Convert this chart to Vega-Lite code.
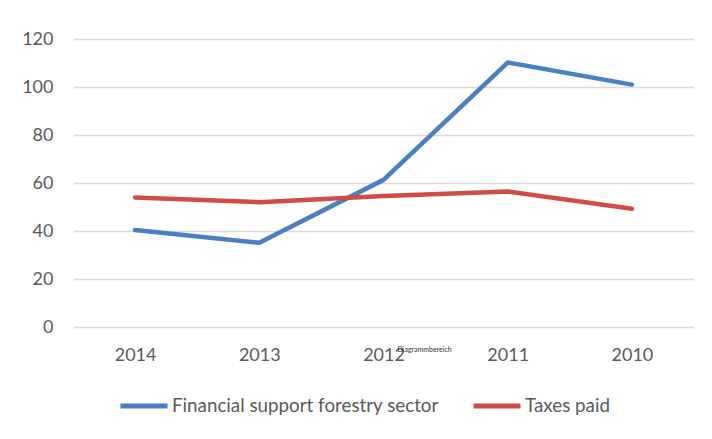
{
  "$schema": "https://vega.github.io/schema/vega-lite/v6.json",
  "width": 621,
  "height": 288,
  "autosize": "none",
  "padding": {"left": 73, "top": 39, "right": 18, "bottom": 112},
  "background": "white",
  "config": {
    "view": {"stroke": null},
    "font": "Lato"
  },
  "datasets": {
    "series": [
      {"year": "2014", "series": "Financial support forestry sector", "value": 40.4},
      {"year": "2013", "series": "Financial support forestry sector", "value": 35.1},
      {"year": "2012", "series": "Financial support forestry sector", "value": 61.3},
      {"year": "2011", "series": "Financial support forestry sector", "value": 110.2},
      {"year": "2010", "series": "Financial support forestry sector", "value": 101.0},
      {"year": "2014", "series": "Taxes paid", "value": 54.0},
      {"year": "2013", "series": "Taxes paid", "value": 52.0},
      {"year": "2012", "series": "Taxes paid", "value": 54.6},
      {"year": "2011", "series": "Taxes paid", "value": 56.5},
      {"year": "2010", "series": "Taxes paid", "value": 49.3}
    ],
    "note": [
      {"year": "2012", "value": 0, "label": "Diagrammbereich"}
    ]
  },
  "layer": [
    {
      "data": {"name": "series"},
      "mark": {"type": "line", "strokeWidth": 4.5, "strokeCap": "round", "strokeJoin": "round"},
      "encoding": {
        "x": {
          "field": "year", "type": "ordinal", "sort": ["2014", "2013", "2012", "2011", "2010"],
          "scale": {"type": "point", "padding": 0.5},
          "axis": {"title": null, "labelAngle": 0, "domain": false, "ticks": false, "grid": false,
                   "labelFont": "Lato", "labelFontSize": 18, "labelColor": "#595959", "labelPadding": 19}
        },
        "y": {
          "field": "value", "type": "quantitative",
          "scale": {"domain": [0, 120]},
          "axis": {"title": null, "values": [0, 20, 40, 60, 80, 100, 120], "domain": false, "ticks": false,
                   "grid": true, "gridColor": "#d9d9d9", "gridWidth": 1.3,
                   "labelFont": "Lato", "labelFontSize": 18, "labelColor": "#595959", "labelPadding": 20}
        },
        "color": {
          "field": "series", "type": "nominal",
          "scale": {"domain": ["Financial support forestry sector", "Taxes paid"], "range": ["#4A7FC1", "#D14B47"]},
          "legend": {
            "title": null, "orient": "none", "direction": "horizontal",
            "legendX": 45, "legendY": 341,
            "symbolType": "stroke", "symbolSize": 2209, "symbolStrokeWidth": 5,
            "labelFont": "Lato", "labelFontSize": 18.8, "labelColor": "#595959",
            "labelOffset": 2, "columnPadding": 24, "labelLimit": 400
          }
        }
      }
    },
    {
      "data": {"name": "note"},
      "mark": {"type": "text", "fontSize": 7, "color": "#333333", "align": "left", "dx": 14, "dy": 23},
      "encoding": {
        "x": {"field": "year", "type": "ordinal", "sort": ["2014", "2013", "2012", "2011", "2010"]},
        "y": {"field": "value", "type": "quantitative"},
        "text": {"field": "label"}
      }
    }
  ]
}
